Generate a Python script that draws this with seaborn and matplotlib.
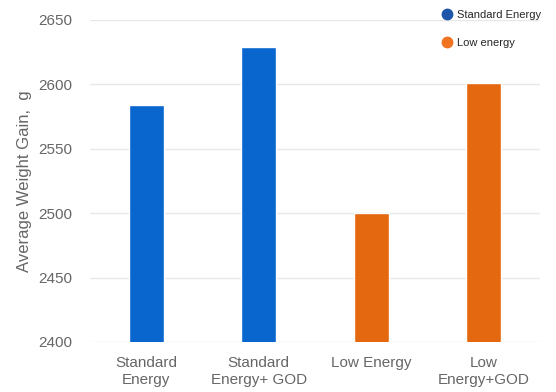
import matplotlib
matplotlib.use("Agg")
import matplotlib.pyplot as plt
import seaborn as sns
import pandas as pd
from matplotlib.lines import Line2D

categories = ["Standard\nEnergy", "Standard\nEnergy+ GOD", "Low Energy", "Low\nEnergy+GOD"]
values = [2584, 2629, 2500, 2601]
groups = ["Standard Energy", "Standard Energy", "Low energy", "Low energy"]
yticks = [2400, 2450, 2500, 2550, 2600, 2650]

colors = {"Standard Energy": "#0a66cf", "Low energy": "#e4680f"}
legend_colors = {"Standard Energy": "#1d56a8", "Low energy": "#f07322"}

df = pd.DataFrame({"category": categories, "value": values, "group": groups})

sns.set_style("white")
plt.rcParams["font.family"] = ["Liberation Sans", "DejaVu Sans"]

fig = plt.figure(figsize=(5.56, 3.92), dpi=100)
ax = fig.add_axes([90/556, 1-342/392, 450/556, 322/392])

sns.barplot(data=df, x="category", y="value", hue="group", palette=colors,
            dodge=False, width=0.31, saturation=1, ax=ax, legend=False, order=categories)

ax.set_ylim(2400, 2650)
ax.set_xlim(-0.5, 3.5)
ax.set_yticks(yticks)
ax.set_yticklabels([str(t) for t in yticks])
ax.yaxis.grid(True, color="#e8e8e8", linewidth=1)
ax.set_axisbelow(True)
for s in ax.spines.values():
    s.set_visible(False)
ax.tick_params(axis="both", length=0, colors="#666666")
ax.tick_params(axis="y", pad=13, labelsize=11)
ax.tick_params(axis="x", pad=10, labelsize=11)
for lbl in ax.get_xticklabels():
    lbl.set_linespacing(1.25)
ax.set_xlabel("")
ax.set_ylabel("Average Weight Gain,  g", color="#666666", fontsize=12, labelpad=4)

handles = [Line2D([0], [0], marker="o", linestyle="", markersize=7.5,
                  markerfacecolor=legend_colors[g], markeredgecolor=legend_colors[g], label=g)
           for g in ["Standard Energy", "Low energy"]]
fig.legend(handles=handles, loc="upper left", bbox_to_anchor=(441/556, 1-10/392),
           frameon=False, fontsize=8, handletextpad=0.4, labelspacing=1.6,
           handlelength=1.0, borderaxespad=0, borderpad=0)

fig.savefig("out.png", dpi=100)
